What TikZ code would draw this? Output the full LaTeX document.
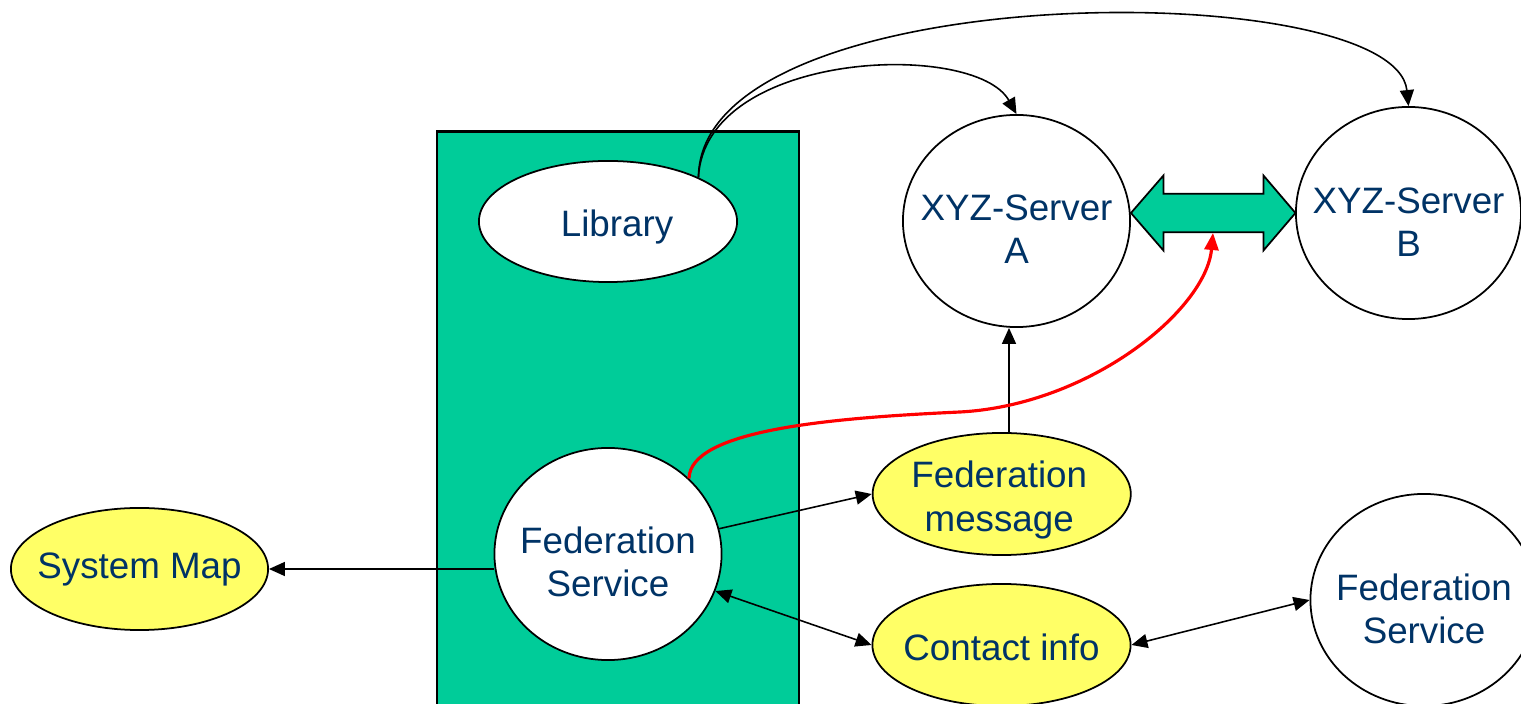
\documentclass[tikz,border=0pt]{standalone}
\usepackage{fontspec}
\setmainfont{Liberation Sans}
\usetikzlibrary{arrows.meta,shapes.geometric,calc}
\definecolor{boxgreen}{RGB}{0,204,153}
\definecolor{noteyellow}{RGB}{255,255,102}
\definecolor{txtblue}{RGB}{0,51,102}
\begin{document}
\begin{tikzpicture}[x=0.01cm,y=-0.01cm,
  txt/.style={text=txtblue, font=\fontsize{10.45pt}{12.3pt}\selectfont, align=center, inner sep=0pt},
  circ/.style={ellipse, draw, line width=0.5pt, fill=white, inner sep=0pt, minimum width=2.27cm, minimum height=2.12cm},
  oval/.style={ellipse, draw, line width=0.5pt, fill=white, inner sep=0pt, minimum width=2.58cm, minimum height=1.21cm},
  note/.style={ellipse, draw, line width=0.5pt, fill=noteyellow, inner sep=0pt, minimum width=2.58cm, minimum height=1.22cm},
  conn/.style={line width=0.45pt, -{Triangle[length=0.16cm,width=0.14cm]}},
  both/.style={line width=0.45pt, {Triangle[length=0.16cm,width=0.14cm]}-{Triangle[length=0.16cm,width=0.14cm]}},
  redconn/.style={line width=0.9pt, red, -{Triangle[length=0.17cm,width=0.14cm]}},
  panelbox/.style={draw, line width=0.6pt, fill=boxgreen, inner sep=0pt, minimum width=3.62cm, minimum height=6cm, anchor=north west}
]
\useasboundingbox (0,0) rectangle (1521,704);
\fill[white] (0,0) rectangle (1521,704);

\node[panelbox] (panel) at (435.5,130.5) {};

\node[oval, label={[txt, xshift=0.09cm, yshift=-0.055cm]center:Library}] (Lib) at (608,221.5) {};
\node[circ, label={[txt, yshift=-0.08cm]center:Federation\\Service}] (FS) at (608,554) {};
\node[note, minimum width=2.57cm, label={[txt]center:System Map}] (SM) at (139.5,569) {};
\node[circ, label={[txt, yshift=-0.085cm]center:XYZ-Server\\A}] (A) at (1016.5,221) {};
\node[circ, minimum width=2.25cm, label={[txt, yshift=-0.09cm]center:XYZ-Server\\B}] (B) at (1408.5,213) {};
\node[note, label={[txt, xshift=-0.025cm, yshift=-0.06cm]center:Federation\\message}] (FM) at (1001.7,494) {};
\node[note, label={[txt, yshift=-0.025cm]center:Contact info}] (CI) at (1001.5,645) {};
\node[circ, label={[txt, yshift=-0.085cm]center:Federation\\Service}] (FS2) at (1424,600) {};

% double block arrow between the servers
\draw[line width=0.5pt, fill=boxgreen] (A.east |- B.west) -- ++(32.5,-37.5) -- ++(0,18.3) -- ++(100,0) -- ++(0,-18.3)
  -- ++(32,37.5) -- ++(-32,37.5) -- ++(0,-18.3) -- ++(-100,0) -- ++(0,18.3) -- cycle;

\coordinate (mx) at (1009,0);
\coordinate (rt) at (1213,233);

\draw[conn] (SM.east -| FS.west) -- (SM.east);
\draw[conn] (FS) -- (FM.west);
\draw[both] (FS) -- (CI.west);
\draw[both] (CI.east) -- (FS2.west);
\draw[conn] (FM.north -| mx) -- (A.south -| mx);
\draw[conn] (Lib.26) .. controls (705,50) and (975,40) .. (A.north);
\draw[conn] (Lib.26) .. controls (700,-25) and (1395,-25) .. (B.north);
\draw[redconn] (FS.43) .. controls (690,430) and (830,418) .. (960,412) .. controls (1090,405) and (1206,310) .. (rt);
\end{tikzpicture}
\end{document}
